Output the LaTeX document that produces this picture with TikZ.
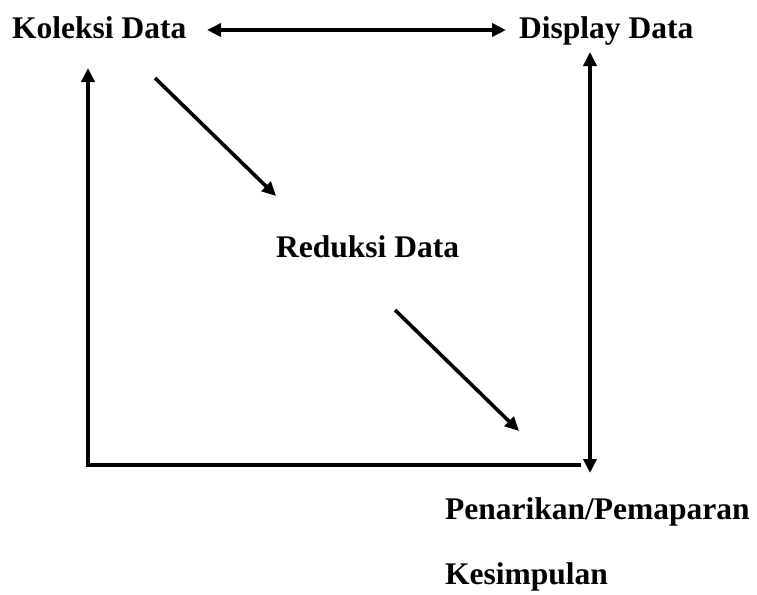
\documentclass[tikz,border=0pt]{standalone}
\usepackage{fontspec}
\setmainfont{Liberation Serif}
\usetikzlibrary{arrows.meta}
\tikzset{
  lbl/.style={anchor=base west, inner sep=0pt, font=\fontsize{31.5}{37}\selectfont\bfseries},
  conn/.style={line width=3.6pt, -{Triangle[length=14pt,width=13pt]}},
  dconn/.style={line width=3.6pt, {Triangle[length=14pt,width=13pt]}-{Triangle[length=14pt,width=13pt]}},
  plain/.style={line width=3.6pt}
}
\begin{document}
\begin{tikzpicture}[x=1pt,y=-1pt]
\useasboundingbox (0,0) rectangle (757,594);
\node[lbl] (kol) at (12,38) {Koleksi Data};
\node[lbl] (dis) at (519,38) {Display Data};
\node[lbl] (red) at (276,257) {Reduksi Data};
\node[lbl] (pen) at (445,519) {Penarikan/Pemaparan};
\node[lbl] (kes) at (445,584) {Kesimpulan};
\coordinate (h1) at (207,30);
\coordinate (h2) at (506,30);
\coordinate (lb) at (88,465);
\coordinate (lt) at (88,68);
\coordinate (br) at (581,465);
\coordinate (rt) at (590,52);
\coordinate (rb) at (590,473);
\coordinate (d1a) at (155,78);
\coordinate (d1b) at (276,196);
\coordinate (d2a) at (395,310);
\coordinate (d2b) at (519,431);
\draw[dconn] (h1) -- (h2);
\draw[plain] (br) -- (lb);
\draw[conn] ([yshift=-1.8pt]lb) -- (lt);
\draw[dconn] (rt) -- (rb);
\draw[conn] (d1a) -- (d1b);
\draw[conn] (d2a) -- (d2b);
\end{tikzpicture}
\end{document}
